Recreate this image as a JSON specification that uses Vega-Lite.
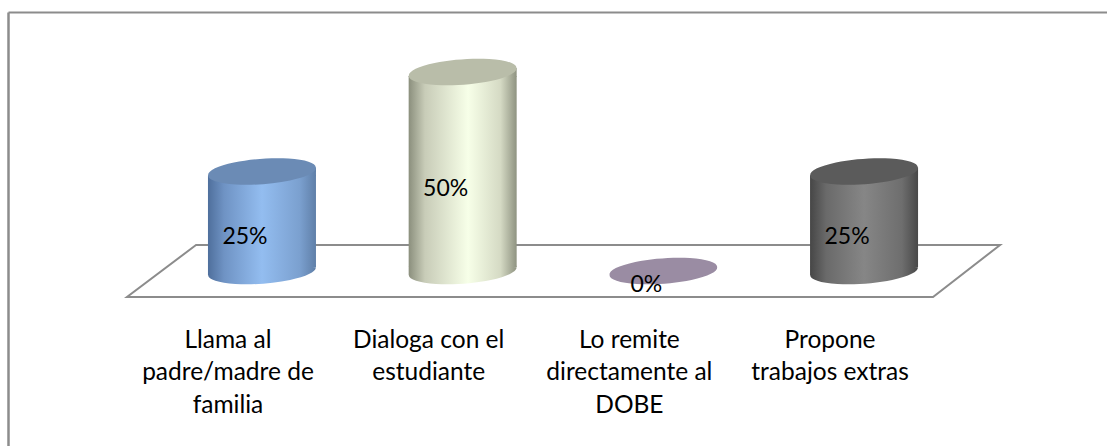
{
  "$schema": "https://vega.github.io/schema/vega-lite/v6.json",
  "width": 1099,
  "height": 434,
  "autosize": "none",
  "padding": {"left": 8, "top": 12, "right": 0, "bottom": 0},
  "background": "white",
  "view": {"stroke": null},
  "config": {"font": "Lato", "axis": {"grid": false}},
  "datasets": {
    "respuestas": [
      {"categoria": "Llama al padre/madre de familia", "valor": 0.25},
      {"categoria": "Dialoga con el estudiante", "valor": 0.5},
      {"categoria": "Lo remite directamente al DOBE", "valor": 0},
      {"categoria": "Propone trabajos extras", "valor": 0.25}
    ],
    "piso": [
      {"profundidad": 0, "izquierda": 0.327, "derecha": 4.344},
      {"profundidad": 1, "izquierda": 0.671, "derecha": 4.678}
    ]
  },
  "resolve": {
    "scale": {"x": "independent", "y": "independent"},
    "axis": {"x": "independent", "y": "independent"}
  },
  "layer": [
    {
      "data": {"name": "piso"},
      "mark": {"type": "area", "orient": "horizontal", "fill": "white", "stroke": "#8c8c8c", "strokeWidth": 2},
      "encoding": {
        "y": {"field": "profundidad", "type": "quantitative", "scale": {"domain": [-2.865, 5.48], "nice": false, "zero": false},
          "axis": {"orient": "left", "title": null, "labels": false, "ticks": false, "grid": false, "domainColor": "#8c8c8c", "domainWidth": 2.5}},
        "x": {"field": "izquierda", "type": "quantitative", "scale": {"domain": [-0.266, 5.211], "nice": false, "zero": false},
          "axis": {"orient": "top", "title": null, "labels": false, "ticks": false, "grid": false, "domainColor": "#8c8c8c", "domainWidth": 2}},
        "x2": {"field": "derecha"}
      }
    },
    {
      "data": {"name": "respuestas"},
      "transform": [{"filter": "datum.valor > 0"}],
      "mark": {"type": "point", "filled": true, "opacity": 1, "size": 11664, "shape": "M-0.997,0.073A1,0.23,-4.2,1,0,0.997,-0.073A1,0.23,-4.2,1,0,-0.997,0.073ZM-1,-0.08L-1,0.08L1,-0.073L1,-0.08Z"},
      "encoding": {
        "x": {"field": "categoria", "type": "nominal", "sort": null, "axis": null, "scale": {"type": "band", "paddingInner": 0, "paddingOuter": 0.738, "align": 0.5186, "domain": ["Llama al padre/madre de familia", "Dialoga con el estudiante", "Lo remite directamente al DOBE", "Propone trabajos extras"]}},
        "y": {"datum": 0, "type": "quantitative", "axis": null, "scale": {"domain": [-0.4397, 0.6507], "nice": false, "zero": false}},
        "fill": {
          "condition": [
            {"test": "datum.categoria === 'Llama al padre/madre de familia'", "value": {"gradient": "linear", "x1": 0, "y1": 0, "x2": 1, "y2": 0, "stops": [{"offset": 0, "color": "#4f6f9c"}, {"offset": 0.15, "color": "#6f93c4"}, {"offset": 0.5, "color": "#93bdf0"}, {"offset": 0.85, "color": "#7ba0cf"}, {"offset": 1, "color": "#5f7fa8"}]}},
            {"test": "datum.categoria === 'Dialoga con el estudiante'", "value": {"gradient": "linear", "x1": 0, "y1": 0, "x2": 1, "y2": 0, "stops": [{"offset": 0, "color": "#8b8f7d"}, {"offset": 0.15, "color": "#c8ccb8"}, {"offset": 0.55, "color": "#f7ffe8"}, {"offset": 0.85, "color": "#d5dac4"}, {"offset": 1, "color": "#8f9381"}]}}
          ],
          "value": {"gradient": "linear", "x1": 0, "y1": 0, "x2": 1, "y2": 0, "stops": [{"offset": 0, "color": "#464646"}, {"offset": 0.15, "color": "#6a6a6a"}, {"offset": 0.5, "color": "#868686"}, {"offset": 0.85, "color": "#6e6e6e"}, {"offset": 1, "color": "#484848"}]}
        }
      }
    },
    {
      "data": {"name": "respuestas"},
      "transform": [{"filter": "datum.valor > 0"}],
      "mark": {"type": "bar", "width": 108},
      "encoding": {
        "x": {"field": "categoria", "type": "nominal", "sort": null, "scale": {"type": "band", "paddingInner": 0, "paddingOuter": 0.738, "align": 0.5186, "domain": ["Llama al padre/madre de familia", "Dialoga con el estudiante", "Lo remite directamente al DOBE", "Propone trabajos extras"]},
          "axis": {"orient": "bottom", "title": null, "offset": -118, "domain": false, "ticks": false, "grid": false, "labelAngle": 0, "labelPadding": 0, "labelOffset": -34, "labelFont": "Lato", "labelFontSize": 24.5, "labelColor": "#000000", "labelLineHeight": 32.7, "labelBaseline": "top", "labelLimit": 0, "labelOverlap": false, "labelFlush": false,
            "labelExpr": "datum.value === 'Llama al padre/madre de familia' ? ['Llama al', 'padre/madre de', 'familia'] : datum.value === 'Dialoga con el estudiante' ? ['Dialoga con el', 'estudiante'] : datum.value === 'Lo remite directamente al DOBE' ? ['Lo remite', 'directamente al', 'DOBE'] : ['Propone', 'trabajos extras']"}},
        "y": {"field": "valor", "type": "quantitative", "stack": null, "axis": null, "scale": {"domain": [-0.4296, 0.6608], "nice": false, "zero": false}},
        "y2": {"datum": 0.02},
        "fill": {
          "condition": [
            {"test": "datum.categoria === 'Llama al padre/madre de familia'", "value": {"gradient": "linear", "x1": 0, "y1": 0, "x2": 1, "y2": 0, "stops": [{"offset": 0, "color": "#4f6f9c"}, {"offset": 0.15, "color": "#6f93c4"}, {"offset": 0.5, "color": "#93bdf0"}, {"offset": 0.85, "color": "#7ba0cf"}, {"offset": 1, "color": "#5f7fa8"}]}},
            {"test": "datum.categoria === 'Dialoga con el estudiante'", "value": {"gradient": "linear", "x1": 0, "y1": 0, "x2": 1, "y2": 0, "stops": [{"offset": 0, "color": "#8b8f7d"}, {"offset": 0.15, "color": "#c8ccb8"}, {"offset": 0.55, "color": "#f7ffe8"}, {"offset": 0.85, "color": "#d5dac4"}, {"offset": 1, "color": "#8f9381"}]}}
          ],
          "value": {"gradient": "linear", "x1": 0, "y1": 0, "x2": 1, "y2": 0, "stops": [{"offset": 0, "color": "#464646"}, {"offset": 0.15, "color": "#6a6a6a"}, {"offset": 0.5, "color": "#868686"}, {"offset": 0.85, "color": "#6e6e6e"}, {"offset": 1, "color": "#484848"}]}
        }
      }
    },
    {
      "data": {"name": "respuestas"},
      "transform": [{"filter": "datum.valor > 0"}],
      "mark": {"type": "point", "filled": true, "opacity": 1, "size": 11664, "shape": "M-1,0.073L1,-0.073L1,0.09L-1,0.09Z"},
      "encoding": {
        "x": {"field": "categoria", "type": "nominal", "sort": null, "axis": null, "scale": {"type": "band", "paddingInner": 0, "paddingOuter": 0.738, "align": 0.5186, "domain": ["Llama al padre/madre de familia", "Dialoga con el estudiante", "Lo remite directamente al DOBE", "Propone trabajos extras"]}},
        "y": {"field": "valor", "type": "quantitative", "axis": null, "scale": {"domain": [-0.4397, 0.6507], "nice": false, "zero": false}},
        "fill": {
          "condition": [
            {"test": "datum.categoria === 'Llama al padre/madre de familia'", "value": {"gradient": "linear", "x1": 0, "y1": 0, "x2": 1, "y2": 0, "stops": [{"offset": 0, "color": "#4f6f9c"}, {"offset": 0.15, "color": "#6f93c4"}, {"offset": 0.5, "color": "#93bdf0"}, {"offset": 0.85, "color": "#7ba0cf"}, {"offset": 1, "color": "#5f7fa8"}]}},
            {"test": "datum.categoria === 'Dialoga con el estudiante'", "value": {"gradient": "linear", "x1": 0, "y1": 0, "x2": 1, "y2": 0, "stops": [{"offset": 0, "color": "#8b8f7d"}, {"offset": 0.15, "color": "#c8ccb8"}, {"offset": 0.55, "color": "#f7ffe8"}, {"offset": 0.85, "color": "#d5dac4"}, {"offset": 1, "color": "#8f9381"}]}}
          ],
          "value": {"gradient": "linear", "x1": 0, "y1": 0, "x2": 1, "y2": 0, "stops": [{"offset": 0, "color": "#464646"}, {"offset": 0.15, "color": "#6a6a6a"}, {"offset": 0.5, "color": "#868686"}, {"offset": 0.85, "color": "#6e6e6e"}, {"offset": 1, "color": "#484848"}]}
        }
      }
    },
    {
      "data": {"name": "respuestas"},
      "mark": {"type": "point", "filled": true, "opacity": 1, "size": 11664, "shape": "M-0.997,0.073A1,0.23,-4.2,1,0,0.997,-0.073A1,0.23,-4.2,1,0,-0.997,0.073Z"},
      "encoding": {
        "x": {"field": "categoria", "type": "nominal", "sort": null, "axis": null, "scale": {"type": "band", "paddingInner": 0, "paddingOuter": 0.738, "align": 0.5186, "domain": ["Llama al padre/madre de familia", "Dialoga con el estudiante", "Lo remite directamente al DOBE", "Propone trabajos extras"]}},
        "y": {"field": "valor", "type": "quantitative", "axis": null, "scale": {"domain": [-0.4397, 0.6507], "nice": false, "zero": false}},
        "fill": {
          "condition": [
            {"test": "datum.valor === 0", "value": "#9a8ca3"},
            {"test": "datum.categoria === 'Llama al padre/madre de familia'", "value": "#6b8bb5"},
            {"test": "datum.categoria === 'Dialoga con el estudiante'", "value": "#b9bda9"}
          ],
          "value": "#5b5b5b"
        }
      }
    },
    {
      "data": {"name": "respuestas"},
      "mark": {"type": "text", "dx": -17, "font": "Lato", "fontSize": 23, "color": "#000000", "baseline": "middle", "align": "center"},
      "encoding": {
        "x": {"field": "categoria", "type": "nominal", "sort": null, "axis": null, "scale": {"type": "band", "paddingInner": 0, "paddingOuter": 0.738, "align": 0.5186, "domain": ["Llama al padre/madre de familia", "Dialoga con el estudiante", "Lo remite directamente al DOBE", "Propone trabajos extras"]}},
        "y": {"field": "valor", "type": "quantitative", "axis": null, "scale": {"domain": [-0.839, 1.422], "nice": false, "zero": false}},
        "text": {"field": "valor", "type": "quantitative", "format": ".0%"}
      }
    }
  ]
}
